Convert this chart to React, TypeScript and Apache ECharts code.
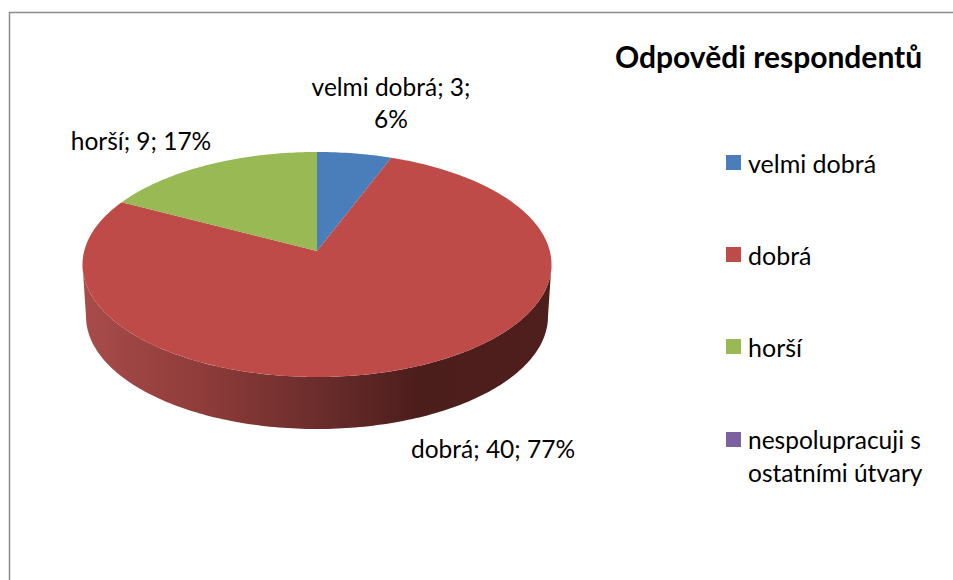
import React, { useEffect, useRef } from "react";
import * as echarts from "echarts";

const categories = ["velmi dobrá", "dobrá", "horší", "nespolupracuji s ostatními útvary"];
const values = [3, 40, 9, 0];
const colors = ["#4a7ebb", "#be4b48", "#98b954", "#7d60a0"];
const chartTitle = "Odpovědi respondentů";

const FONT = "Lato";
const FS = 25;
const LABEL_FS = 24.5;
const LABEL_CENTRES: ([number, number] | null)[] = [[391, 102], [493, 448], [141, 140], null];
const LABEL_LINES: (string | null)[] = ["{n}; {v};\n{p}%", "{n}; {v}; {p}%", "{n}; {v}; {p}%", null];

// Perspective view of the pie disc
const CX = 317, CY = 251, RX = 232.8, RY = 110.9, K = -0.12, DEPTH = 52, BOTTOM_SCALE = 0.985;
const D = Math.PI / 180;
const total = values.reduce((a, b) => a + b, 0);
const project = (deg: number, lower = false) => {
  const u = Math.sin(deg * D), v = -Math.cos(deg * D), w = 1 + K * v;
  const s = lower ? BOTTOM_SCALE : 1;
  return [CX + (s * RX * u) / w, CY + (lower ? DEPTH : 0) + (RY * v) / w];
};
const arcPts = (a: number, b: number, lower = false) => {
  const n = Math.max(2, Math.ceil(Math.abs(b - a)));
  const pts: number[][] = [];
  for (let i = 0; i <= n; i++) pts.push(project(a + ((b - a) * i) / n, lower));
  return pts;
};
const WALL_FROM = Math.acos(K) / D;
const WALL_TO = 360 - WALL_FROM;

function makeSeries(idx: number) {
  const start = (values.slice(0, idx).reduce((a, b) => a + b, 0) / total) * 360;
  const sweep = (values[idx] / total) * 360;
  const end = start + sweep;
  return {
    type: "custom",
    name: categories[idx],
    coordinateSystem: "none",
    itemStyle: { color: colors[idx] },
    data: [values[idx]],
    silent: true,
    renderItem: () => {
      const children: any[] = [];
      if (sweep > 0) {
        const a = Math.max(start, WALL_FROM), b = Math.min(end, WALL_TO);
        if (b > a) {
          children.push({
            type: "polygon",
            shape: { points: [...arcPts(a, b), ...arcPts(b, a, true)] },
            style: {
              fill: new echarts.graphic.LinearGradient(83, 0, 552, 0, [
                { offset: 0, color: "#a84c4a" },
                { offset: 0.25, color: "#8f3c3a" },
                { offset: 0.5, color: "#6b2d2c" },
                { offset: 0.72, color: "#4b1d1b" },
                { offset: 1, color: "#4f1f1d" },
              ], true),
            },
          });
        }
        children.push({
          type: "polygon",
          shape: { points: [[CX, CY], ...arcPts(start, end)] },
          style: { fill: colors[idx] },
        });
      }
      const c = LABEL_CENTRES[idx], tpl = LABEL_LINES[idx];
      if (c && tpl) {
        children.push({
          type: "text",
          x: c[0],
          y: c[1],
          style: {
            text: tpl
              .replace("{n}", categories[idx])
              .replace("{v}", String(values[idx]))
              .replace("{p}", String(Math.round((values[idx] / total) * 100))),
            align: "center",
            verticalAlign: "middle",
            fontFamily: FONT,
            fontSize: LABEL_FS,
            lineHeight: 32,
            fill: "#000",
          },
        });
      }
      return { type: "group", children };
    },
  };
}

export default function App() {
  const ref = useRef<HTMLDivElement>(null);
  useEffect(() => {
    document.body.style.margin = "0";
    const chart = echarts.init(ref.current!, null, { renderer: "svg" });
    const legendBase = {
      orient: "vertical",
      left: 726,
      itemWidth: 15,
      itemHeight: 15,
      icon: "rect",
      selectedMode: false,
      itemGap: 67,
      padding: 0,
      z: 10,
      textStyle: { fontFamily: FONT, fontSize: FS, color: "#000", padding: [0, 0, 0, 2] },
    };
    chart.setOption({
      animation: false,
      backgroundColor: "#fff",
      title: {
        text: chartTitle,
        left: 615,
        top: 41,
        padding: 0,
        textStyle: { fontFamily: FONT, fontSize: 30, fontWeight: "bold", color: "#000" },
      },
      legend: [
        { ...legendBase, top: 150, data: categories.slice(0, 3) },
        {
          ...legendBase,
          top: 390,
          data: categories.slice(3),
          formatter: () => "\u00a0\nnespolupracuji s\nostatními útvary",
          textStyle: { ...legendBase.textStyle, fontSize: 24.5, lineHeight: 33 },
        },
      ],
      graphic: [
        {
          type: "rect",
          shape: { x: 9.5, y: 12.5, width: 1200, height: 900 },
          style: { fill: "none", stroke: "#8c8c8c", lineWidth: 1.5 },
        },
      ],
      series: categories.map((_, i) => makeSeries(i)),
    });
    return () => chart.dispose();
  }, []);
  return <div ref={ref} style={{ width: 953, height: 580 }} />;
}
